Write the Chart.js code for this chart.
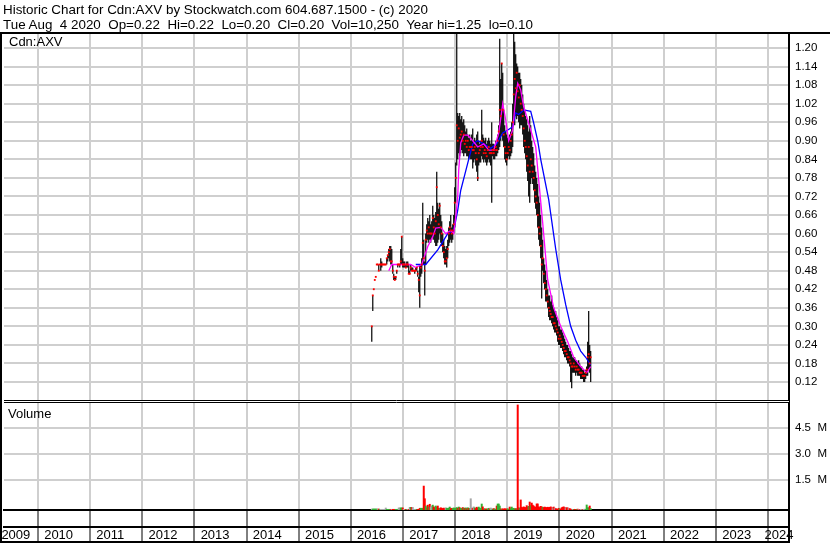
<!DOCTYPE html>
<html><head><meta charset="utf-8">
<script src="https://cdn.jsdelivr.net/npm/chart.js@4.4.1/dist/chart.umd.min.js"></script>
<style>
html,body{margin:0;padding:0;background:#fff;}
#wrap{position:relative;width:830px;height:543px;overflow:hidden;font-family:'Liberation Sans',Arial,sans-serif;color:#000;}
#c{position:absolute;left:0;top:0;}
.t{position:absolute;white-space:pre;}
</style></head><body>
<div id="wrap">
<canvas id="c" width="830" height="543"></canvas>
<div class="t" id="h1" style="left:3px;top:3px;font-size:13.4px;line-height:13.4px;"></div>
<div class="t" id="h2" style="left:3px;top:18px;font-size:13.4px;line-height:13.4px;"></div>
<div class="t" id="p1" style="left:9px;top:35px;font-size:13px;line-height:13px;"></div>
<div class="t" id="p2" style="left:8px;top:407px;font-size:13px;line-height:13px;"></div>
</div>
<script>
// ---- texts ----
const titleLine1 = "Historic Chart for Cdn:AXV by Stockwatch.com 604.687.1500 - (c) 2020";
const titleLine2 = "Tue Aug  4 2020  Op=0.22  Hi=0.22  Lo=0.20  Cl=0.20  Vol=10,250  Year hi=1.25  lo=0.10";
const priceLabel = "Cdn:AXV";
const volumeLabel = "Volume";

// ---- axes ----
const yearTicks = [2010,2011,2012,2013,2014,2015,2016,2017,2018,2019,2020,2021,2022,2023,2024];
const yearLabels = [2009,2010,2011,2012,2013,2014,2015,2016,2017,2018,2019,2020,2021,2022,2023,2024];
const priceTicks = [0.12,0.18,0.24,0.30,0.36,0.42,0.48,0.54,0.60,0.66,0.72,0.78,0.84,0.90,0.96,1.02,1.08,1.14,1.20];
const volumeTicks = [1500000,3000000,4500000];
const xMin = 2009.35, xMax = 2024.40;
const priceMin = 0.0586, priceMax = 1.2485;
const volumeAxisMin = -213500, volumeAxisMax = 6020000;
const volumeBarMax = 27520000;

// ---- weekly series (week 0 = late May 2016) ----
const firstWeek = 2016.401;
const weeksPerYear = 52.18;
const highs = [
0.30,0.40,0.42,0.45,0.46,0.50,0.50,0.50,0.50,0.52,
0.51,0.50,0.50,0.50,0.50,0.52,0.53,0.55,0.56,0.56,
0.55,0.50,0.47,0.46,0.46,0.48,0.50,0.50,0.50,0.55,
0.59,0.52,0.51,0.51,0.50,0.51,0.51,0.50,0.48,0.50,
0.49,0.49,0.48,0.48,0.49,0.49,0.48,0.46,0.50,0.50,
0.52,0.70,0.58,0.51,0.60,0.63,0.65,0.64,0.66,0.63,
0.64,0.69,0.66,0.65,0.67,0.80,0.70,0.68,0.70,0.66,
0.64,0.60,0.58,0.56,0.55,0.56,0.58,0.62,0.64,0.66,
0.62,0.63,0.66,0.75,0.83,1.25,0.99,0.98,0.99,0.97,
0.98,0.96,0.97,0.95,0.93,0.94,0.92,0.91,0.92,0.90,
0.92,0.94,0.90,0.91,0.90,0.92,0.93,0.90,0.89,0.90,
1.00,0.92,0.91,0.90,0.91,0.89,0.90,0.91,0.90,0.89,
0.96,0.89,0.89,0.88,0.90,0.89,0.92,0.95,1.23,1.10,
1.15,1.12,1.00,0.95,0.93,0.92,0.91,0.90,0.92,0.93,
0.96,1.02,1.25,1.22,1.18,1.15,1.14,1.12,1.12,1.10,
1.08,1.05,1.02,1.00,0.98,0.97,0.95,0.93,0.98,0.95,
0.90,0.88,0.86,0.82,0.80,0.78,0.76,0.72,0.70,0.66,
0.62,0.58,0.52,0.50,0.48,0.45,0.42,0.40,0.40,0.38,
0.40,0.37,0.36,0.35,0.35,0.33,0.32,0.30,0.30,0.29,
0.29,0.28,0.27,0.26,0.25,0.24,0.24,0.23,0.22,0.22,
0.21,0.20,0.20,0.20,0.19,0.19,0.18,0.19,0.18,0.17,
0.17,0.16,0.16,0.15,0.16,0.17,0.25,0.35,0.24,0.22];
const lows = [
0.25,0.35,0.42,0.45,0.46,0.50,0.50,0.48,0.50,0.48,
0.49,0.50,0.50,0.50,0.50,0.50,0.51,0.52,0.51,0.50,
0.50,0.47,0.45,0.45,0.45,0.47,0.49,0.50,0.49,0.50,
0.50,0.49,0.49,0.49,0.49,0.49,0.49,0.47,0.47,0.48,
0.48,0.48,0.48,0.47,0.48,0.48,0.46,0.41,0.36,0.46,
0.47,0.50,0.50,0.40,0.50,0.57,0.58,0.57,0.58,0.57,
0.58,0.59,0.58,0.57,0.56,0.56,0.57,0.58,0.60,0.57,
0.56,0.54,0.52,0.50,0.50,0.49,0.52,0.56,0.57,0.58,
0.57,0.58,0.60,0.62,0.70,0.82,0.84,0.86,0.85,0.86,
0.87,0.86,0.85,0.86,0.86,0.85,0.85,0.84,0.85,0.84,
0.84,0.81,0.83,0.84,0.82,0.80,0.77,0.82,0.83,0.83,
0.85,0.84,0.83,0.84,0.83,0.82,0.83,0.84,0.83,0.82,
0.70,0.85,0.84,0.84,0.85,0.85,0.86,0.87,0.88,0.90,
0.92,0.90,0.88,0.84,0.83,0.82,0.84,0.85,0.84,0.85,
0.86,0.88,0.96,0.95,0.98,0.97,0.98,0.96,0.94,0.95,
0.95,0.92,0.88,0.86,0.84,0.80,0.77,0.72,0.70,0.76,
0.78,0.76,0.74,0.70,0.68,0.66,0.62,0.58,0.56,0.52,
0.39,0.48,0.44,0.42,0.38,0.38,0.36,0.33,0.32,0.32,
0.31,0.30,0.29,0.28,0.28,0.27,0.25,0.24,0.24,0.23,
0.23,0.22,0.21,0.20,0.20,0.19,0.18,0.18,0.17,0.12,
0.10,0.15,0.15,0.15,0.14,0.15,0.14,0.14,0.14,0.13,
0.13,0.13,0.12,0.12,0.13,0.14,0.14,0.16,0.15,0.12];
const closes = [
0.30,0.40,0.42,0.45,0.46,0.50,0.50,0.48,0.50,0.50,
0.50,0.50,0.50,0.50,0.50,0.52,0.53,0.54,0.55,0.51,
0.51,0.48,0.46,0.45,0.46,0.48,0.50,0.50,0.50,0.51,
0.59,0.50,0.50,0.50,0.49,0.50,0.50,0.47,0.47,0.49,
0.48,0.48,0.48,0.48,0.48,0.49,0.47,0.45,0.40,0.49,
0.50,0.57,0.52,0.48,0.58,0.61,0.60,0.62,0.60,0.60,
0.60,0.65,0.62,0.60,0.64,0.75,0.66,0.63,0.69,0.62,
0.60,0.56,0.54,0.51,0.51,0.52,0.55,0.60,0.62,0.61,
0.60,0.61,0.63,0.70,0.78,0.95,0.90,0.94,0.91,0.92,
0.93,0.90,0.92,0.89,0.90,0.88,0.90,0.87,0.88,0.88,
0.88,0.87,0.87,0.88,0.86,0.84,0.78,0.86,0.87,0.88,
0.90,0.88,0.86,0.87,0.86,0.85,0.87,0.88,0.86,0.86,
0.86,0.87,0.86,0.87,0.88,0.87,0.90,0.93,1.00,0.98,
1.15,1.00,0.92,0.88,0.86,0.84,0.86,0.88,0.87,0.90,
0.92,0.96,1.05,1.10,1.07,1.12,1.06,1.04,1.08,1.02,
1.00,0.98,0.94,0.90,0.88,0.85,0.82,0.88,0.80,0.84,
0.82,0.80,0.78,0.74,0.72,0.70,0.66,0.62,0.60,0.56,
0.50,0.52,0.47,0.44,0.42,0.40,0.38,0.36,0.35,0.34,
0.33,0.33,0.31,0.31,0.30,0.29,0.28,0.26,0.27,0.26,
0.25,0.24,0.23,0.22,0.22,0.21,0.20,0.20,0.19,0.18,
0.17,0.17,0.18,0.17,0.16,0.17,0.16,0.16,0.15,0.15,
0.15,0.14,0.14,0.14,0.15,0.16,0.20,0.21,0.18,0.20];
// weekly volume, thousands of shares
const volumes = [
75,75,75,75,75,75,75,75,60,60,
60,60,60,60,135,60,60,60,60,60,
60,60,60,60,60,60,60,140,140,140,
140,140,60,60,60,60,60,60,170,170,
170,170,60,60,60,60,60,60,120,120,
120,120,1400,670,250,150,300,200,350,180,
250,300,200,150,250,180,250,120,100,150,
120,100,130,100,150,120,110,130,190,100,
120,100,140,110,130,160,120,190,150,120,
110,160,130,120,140,100,150,120,110,670,
150,120,200,140,100,180,120,190,130,100,
365,200,80,100,60,90,70,120,80,135,
90,70,100,80,60,250,365,365,250,80,
70,90,60,100,70,80,90,60,190,100,
190,100,120,80,100,90,6080,150,120,600,
180,150,200,170,160,270,200,230,480,270,
420,300,250,200,180,370,370,200,160,230,
200,180,160,190,170,150,180,160,170,200,
160,150,190,130,100,80,60,120,90,70,
150,180,200,170,160,150,140,120,100,70,
60,60,50,60,50,60,70,60,50,60,
60,50,60,70,60,310,150,150,250,100];

// moving averages (week index, value)
const maShortWeek = [17,20,24,30,39,44,50,56,61,64,69,74,79,82,84,86,87,89,92,96,101,106,112,117,122,127,131,134,137,141,144,146,149,152,156,159,164,167,171,176,182,189,196,202,209,215,219];
const maShortVal  = [0.48,0.50,0.50,0.50,0.50,0.49,0.50,0.558,0.59,0.618,0.62,0.60,0.61,0.60,0.655,0.72,0.806,0.893,0.918,0.918,0.90,0.88,0.89,0.87,0.87,0.925,1.02,0.967,0.90,0.935,1.043,1.086,1.064,1.01,0.967,0.935,0.88,0.773,0.634,0.45,0.36,0.30,0.25,0.20,0.17,0.15,0.17];
const maLongWeek = [44,54,66,76,82,86,89,96,101,106,112,119,125,131,136,141,144,147,152,159,162,166,169,177,184,189,194,199,204,209,214,219];
const maLongVal  = [0.50,0.50,0.547,0.60,0.61,0.676,0.74,0.828,0.89,0.90,0.89,0.876,0.89,0.925,0.935,0.945,0.99,0.985,1.00,0.995,0.957,0.90,0.84,0.71,0.55,0.45,0.37,0.30,0.255,0.22,0.20,0.175];

// ---- colours ----
const colUp = '#33b033', colDown = '#ff0000', colFlat = '#a6a6a6';
const gridColor = '#cfcfcf';

document.getElementById('h1').textContent = titleLine1;
document.getElementById('h2').textContent = titleLine2;
document.getElementById('p1').textContent = priceLabel;
document.getElementById('p2').textContent = volumeLabel;

const weekX = i => firstWeek + i / weeksPerYear;
const volColors = closes.map((c, i) => i === 0 || c === closes[i-1] ? colFlat : (c > closes[i-1] ? colUp : colDown));

Chart.defaults.font.family = "'Liberation Sans', Arial, sans-serif";
Chart.defaults.color = '#000';

const framePlugin = {
  id: 'frame',
  afterDraw(chart) {
    const {ctx, chartArea: a, scales} = chart;
    ctx.save();
    ctx.strokeStyle = '#000';
    const ln = (x1, y1, x2, y2, w) => { ctx.lineWidth = w; ctx.beginPath(); ctx.moveTo(x1, y1); ctx.lineTo(x2, y2); ctx.stroke(); };
    ln(0, a.top, chart.width, a.top, 2);
    ln(1, a.top, 1, chart.height, 2);
    ln(a.right, a.bottom, a.right, chart.height, 2);
    ln(0, chart.height - 1, a.right, chart.height - 1, 2);
    const yb = scales.y.bottom;
    ctx.fillStyle = '#fff';
    ctx.fillRect(a.left, yb - 1, a.right - a.left, 3);
    ln(a.left, yb - 0.5, a.right, yb - 0.5, 1);
    ln(a.left, yb + 1.5, a.right, yb + 1.5, 1);
    ctx.restore();
  }
};

new Chart(document.getElementById('c'), {
  type: 'bar',
  data: {
    datasets: [
      { type: 'line', label: 'MA long', data: maLongWeek.map((w, k) => ({x: weekX(w), y: maLongVal[k]})),
        yAxisID: 'y', xAxisID: 'x', borderColor: '#0000ff', borderWidth: 1.3, pointRadius: 0, tension: 0, order: 3 },
      { type: 'bar', label: 'Range', data: highs.map((h, i) => ({x: weekX(i), y: [lows[i], h]})),
        yAxisID: 'y', xAxisID: 'x', backgroundColor: '#000', grouped: false, barPercentage: 1.2, categoryPercentage: 1, order: 4 },
      { type: 'line', label: 'MA short', data: maShortWeek.map((w, k) => ({x: weekX(w), y: maShortVal[k]})),
        yAxisID: 'y', xAxisID: 'x', borderColor: '#ff00ff', borderWidth: 1.3, pointRadius: 0, tension: 0, order: 2 },
      { type: 'line', label: 'Close', data: closes.map((c, i) => ({x: weekX(i), y: c})), showLine: false,
        yAxisID: 'y', xAxisID: 'x', pointStyle: 'rect', pointRadius: 1.3, pointBackgroundColor: '#ff0000', pointBorderWidth: 0, order: 1 },
      { type: 'bar', label: 'Volume', data: volumes.map((v, i) => ({x: weekX(i), y: v * 1000})),
        yAxisID: 'yvb', xAxisID: 'x', backgroundColor: volColors, grouped: false, barPercentage: 2, categoryPercentage: 1, order: 5 }
    ]
  },
  options: {
    responsive: false, animation: false, events: [],
    layout: { padding: { top: 33, left: 2, right: 0, bottom: 0 } },
    plugins: { legend: { display: false }, tooltip: { enabled: false } },
    scales: {
      x: { type: 'linear', position: 'bottom', min: xMin, max: xMax, offset: false,
        afterBuildTicks: s => { s.ticks = yearTicks.map(v => ({value: v})); },
        grid: { offset: false, color: gridColor, lineWidth: 2, tickLength: 33, tickColor: '#000', tickWidth: 1, drawTicks: true },
        border: { display: true, color: '#000', width: 2 },
        ticks: { display: false },
        afterFit: s => { s.height = 17; } },
      x2: { type: 'linear', position: 'bottom', min: xMin, max: xMax, offset: false,
        afterBuildTicks: s => { s.ticks = yearLabels.map(y => ({value: Math.min(Math.max(y + 0.12, xMin - 0.05), xMax - 0.47)})); },
        grid: { offset: false, display: false, drawTicks: false, drawOnChartArea: false },
        border: { display: true, color: '#000', width: 2 },
        ticks: { align: 'start', padding: 1, autoSkip: false, maxRotation: 0, font: { size: 13 }, color: '#000',
          callback: (v, i) => String(yearLabels[i]) },
        afterFit: s => { s.height = 16; } },
      y: { type: 'linear', position: 'right', stack: 'panels', stackWeight: 368, min: priceMin, max: priceMax,
        afterBuildTicks: s => { s.ticks = priceTicks.map(v => ({value: v})); },
        grid: { color: gridColor, lineWidth: 2, drawTicks: false },
        border: { display: true, color: '#000', width: 2 },
        ticks: { padding: 6, autoSkip: false, font: { size: 11.5 }, color: '#000', callback: v => v.toFixed(2) },
        afterFit: s => { s.width = 41; } },
      yv: { type: 'linear', position: 'right', stack: 'panels', stackWeight: 109, min: volumeAxisMin, max: volumeAxisMax,
        afterBuildTicks: s => { s.ticks = volumeTicks.map(v => ({value: v})); },
        grid: { color: gridColor, lineWidth: 2, drawTicks: false },
        border: { display: true, color: '#000', width: 2 },
        ticks: { padding: 6, autoSkip: false, font: { size: 11.5 }, color: '#000', callback: v => (v / 1e6).toFixed(1) + '  M' },
        afterFit: s => { s.width = 41; } },
      yvb: { type: 'linear', position: 'right', display: false, min: 0, max: volumeBarMax }
    }
  },
  plugins: [framePlugin]
});
</script>
</body></html>
